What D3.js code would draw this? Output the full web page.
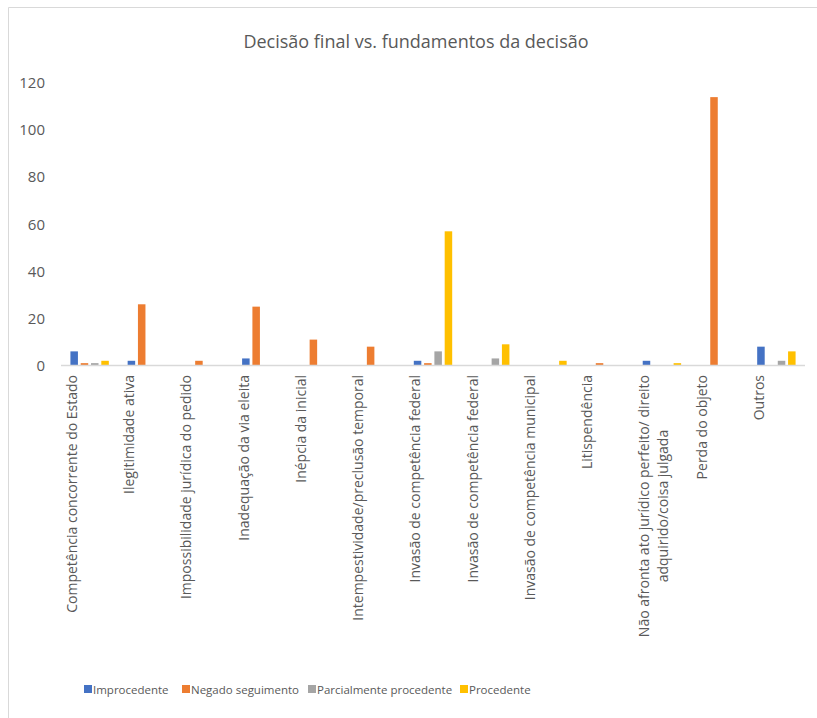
<!DOCTYPE html>
<html>
<head>
<meta charset="utf-8">
<script src="https://cdn.jsdelivr.net/npm/d3@7"></script>
<style>
  body { margin: 0; background: #fff; }
  text { font-family: "Open Sans", "Noto Sans", sans-serif; }
</style>
</head>
<body>
<div class="chart"></div>
<script>
// categories (some labels wrap on two lines)
var categories = [
  ["Competência concorrente do Estado"],
  ["Ilegitimidade ativa"],
  ["Impossibilidade jurídica do pedido"],
  ["Inadequação da via eleita"],
  ["Inépcia da inicial"],
  ["Intempestividade/preclusão temporal"],
  ["Invasão de competência federal"],
  ["Invasão de competência federal"],
  ["Invasão de competência municipal"],
  ["Litispendência"],
  ["Não afronta ato jurídico perfeito/ direito", "adquirido/coisa julgada"],
  ["Perda do objeto"],
  ["Outros"]
];
var seriesNames = ["Improcedente", "Negado seguimento", "Parcialmente procedente", "Procedente"];
var colors = ["#4472C4", "#ED7D31", "#A5A5A5", "#FFC000"];

var improcedente = [6, 2, 0, 3, 0, 0, 2, 0, 0, 0, 2, 0, 8];
var negado       = [1, 26, 2, 25, 11, 8, 1, 0, 0, 1, 0, 114, 0];
var parcial      = [1, 0, 0, 0, 0, 0, 6, 3, 0, 0, 0, 0, 2];
var procedente   = [2, 0, 0, 0, 0, 0, 57, 9, 2, 0, 1, 0, 6];
var yTicks = [0, 20, 40, 60, 80, 100, 120];

var series = [improcedente, negado, parcial, procedente];

var W = 817, H = 718;
var svg = d3.select(".chart").append("svg")
  .attr("width", W).attr("height", H);

// chart frame (only top & left visible in the reference)
svg.append("line").attr("x1", 8.5).attr("x2", W).attr("y1", 7.5).attr("y2", 7.5)
  .attr("stroke", "#d9d9d9");
svg.append("line").attr("x1", 8.5).attr("x2", 8.5).attr("y1", 7.5).attr("y2", H)
  .attr("stroke", "#d9d9d9");

svg.append("text")
  .attr("x", 416).attr("y", 48)
  .attr("text-anchor", "middle")
  .attr("font-size", 18)
  .attr("fill", "#595959")
  .text("Decisão final vs. fundamentos da decisão");

var idx = d3.range(categories.length);

var x0 = d3.scaleBand().domain(idx).range([61, 805]).padding(0);
var bw = x0.bandwidth();
var x1 = d3.scaleBand().domain(d3.range(seriesNames.length))
  .range([bw / 2 - 19.2, bw / 2 + 19.2]).paddingInner(0.27).paddingOuter(0);
var y = d3.scaleLinear().domain([0, 120]).range([365.5, 83]);

// y tick labels (no axis line, no grid)
var yAxis = svg.append("g")
  .attr("transform", "translate(45,0)")
  .call(d3.axisLeft(y).tickValues(yTicks).tickSize(0).tickPadding(0));
yAxis.select(".domain").remove();
yAxis.selectAll("text")
  .attr("font-size", 15)
  .attr("fill", "#595959")
  .style("font-family", '"Open Sans", "Noto Sans", sans-serif');

// bars
var groups = svg.append("g").selectAll("g")
  .data(idx).enter().append("g")
  .attr("transform", function(i) { return "translate(" + x0(i) + ",0)"; });

groups.selectAll("rect")
  .data(function(i) { return series.map(function(s, k) { return {k: k, v: s[i]}; }); })
  .enter().append("rect")
  .attr("x", function(d) { return x1(d.k); })
  .attr("y", function(d) { return y(d.v); })
  .attr("width", x1.bandwidth())
  .attr("height", function(d) { return y(0) - y(d.v); })
  .attr("fill", function(d) { return colors[d.k]; });

// x axis line
svg.append("line")
  .attr("x1", 61).attr("x2", 805)
  .attr("y1", y(0)).attr("y2", y(0))
  .attr("stroke", "#d9d9d9").attr("stroke-width", 1.5);

// rotated category labels, top-aligned under the axis
var lineH = 19;
svg.append("g").selectAll("text")
  .data(idx).enter().append("text")
  .attr("font-size", 14)
  .attr("fill", "#595959")
  .attr("text-anchor", "middle")
  .each(function(i) {
    var t = d3.select(this);
    categories[i].forEach(function(l, j) {
      t.append("tspan").attr("x", 0).attr("y", j * lineH).text(l);
    });
    var w = d3.max(t.selectAll("tspan").nodes(), function(n) { return n.getComputedTextLength(); });
    var bx = x0(i) + 16;
    t.attr("transform", "translate(" + bx + "," + (375 + w / 2) + ") rotate(-90)");
  });

// legend
var legendX = [84, 182, 308, 460];
var legend = svg.append("g").selectAll("g")
  .data(seriesNames).enter().append("g")
  .attr("transform", function(d, k) { return "translate(" + legendX[k] + ",685)"; });
legend.append("rect").attr("width", 8).attr("height", 8).attr("fill", function(d, k) { return colors[k]; });
legend.append("text").attr("x", 9).attr("y", 8.5)
  .attr("font-size", 11.5).attr("fill", "#595959")
  .text(function(d) { return d; });
</script>
</body>
</html>
